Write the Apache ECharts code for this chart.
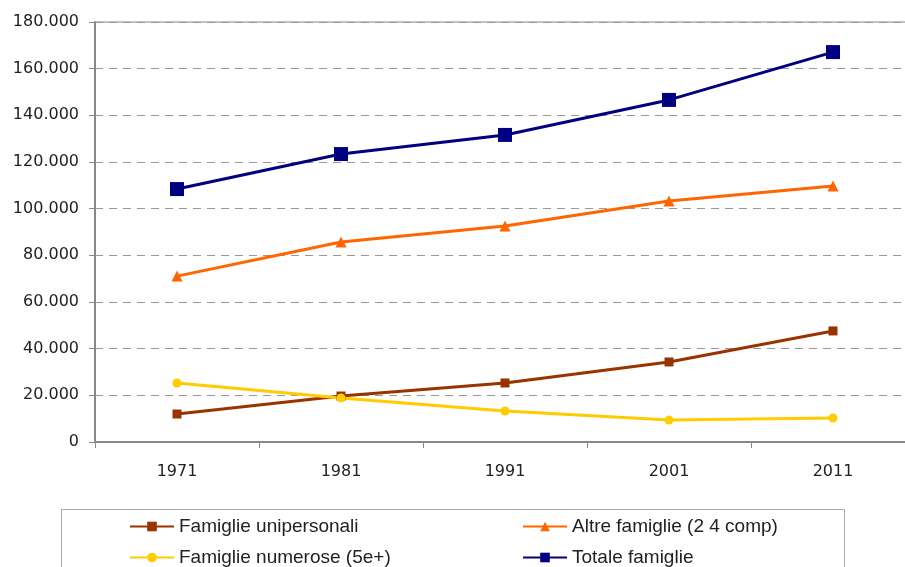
<!DOCTYPE html>
<html>
<head>
<meta charset="utf-8">
<script src="https://cdn.jsdelivr.net/npm/echarts@6/dist/echarts.min.js"></script>
<style>
    html, body {margin: 0; padding: 0; background: #fff;}
    #chart {width: 905px; height: 567px;}
</style>
</head>
<body>
<div id="chart"></div>
<script>
// anni del censimento
let anni = ['1971', '1981', '1991', '2001', '2011'];
let unipersonali = [12000, 19700, 25300, 34300, 47600];
let altre = [71100, 85700, 92600, 103300, 109700];
let numerose = [25300, 18900, 13300, 9400, 10300];
let totale = [108400, 123400, 131600, 146600, 167100];
let yTicks = [0, 180000, 20000];

let nomi = ['Famiglie unipersonali', 'Altre famiglie (2 4 comp)', 'Famiglie numerose (5e+)', 'Totale famiglie'];

function fmt(v) {
    return v === 0 ? '0' : (v / 1000).toFixed(3);
}

let legText = {fontFamily: 'Liberation Sans', fontSize: 19, color: '#222'};

let chart = echarts.init(document.getElementById('chart'));
chart.setOption({
    animation: false,
    grid: {
        left: 95, top: 22, width: 820, height: 420,
        outerBoundsMode: 'none',
        show: true, borderColor: '#888', borderWidth: 1
    },
    graphic: [
        {
            type: 'rect', left: 59, top: 507,
            shape: {width: 783, height: 80},
            style: {fill: 'none', stroke: '#aaa', lineWidth: 1}
        }
    ],
    legend: [
        {
            left: 129, top: 517, orient: 'vertical', height: 90, padding: 0,
            itemWidth: 44, itemHeight: 12, itemGap: 12,
            data: [nomi[0], nomi[2]], textStyle: legText
        },
        {
            left: 522, top: 517, orient: 'vertical', height: 90, padding: 0,
            itemWidth: 44, itemHeight: 12, itemGap: 12,
            data: [nomi[1], nomi[3]], textStyle: legText
        }
    ],
    xAxis: {
        type: 'category', data: anni, boundaryGap: true,
        axisLine: {lineStyle: {color: '#888', width: 2}},
        axisTick: {show: true, length: 6, lineStyle: {color: '#888'}},
        axisLabel: {margin: 22, fontFamily: 'DejaVu Sans', fontSize: 16, color: '#222'}
    },
    yAxis: {
        type: 'value', min: yTicks[0], max: yTicks[1], interval: yTicks[2],
        axisLine: {show: true, lineStyle: {color: '#888', width: 2}},
        axisTick: {show: true, length: 6, lineStyle: {color: '#888'}},
        axisLabel: {formatter: fmt, margin: 16, fontFamily: 'DejaVu Sans', fontSize: 16, color: '#222'},
        splitLine: {lineStyle: {color: '#999', type: [8, 6]}}
    },
    series: [
        {
            name: nomi[0], type: 'line', data: unipersonali,
            symbol: 'rect', symbolSize: 9,
            lineStyle: {color: '#993300', width: 3},
            itemStyle: {color: '#993300'}
        },
        {
            name: nomi[1], type: 'line', data: altre,
            symbol: 'triangle', symbolSize: 11,
            lineStyle: {color: '#FF6600', width: 3},
            itemStyle: {color: '#FF6600'}
        },
        {
            name: nomi[2], type: 'line', data: numerose,
            symbol: 'circle', symbolSize: 9,
            lineStyle: {color: '#FFCC00', width: 3},
            itemStyle: {color: '#FFCC00'}
        },
        {
            name: nomi[3], type: 'line', data: totale,
            symbol: 'rect', symbolSize: 14,
            lineStyle: {color: '#000080', width: 3},
            itemStyle: {color: '#000080'}
        }
    ]
});
</script>
</body>
</html>
